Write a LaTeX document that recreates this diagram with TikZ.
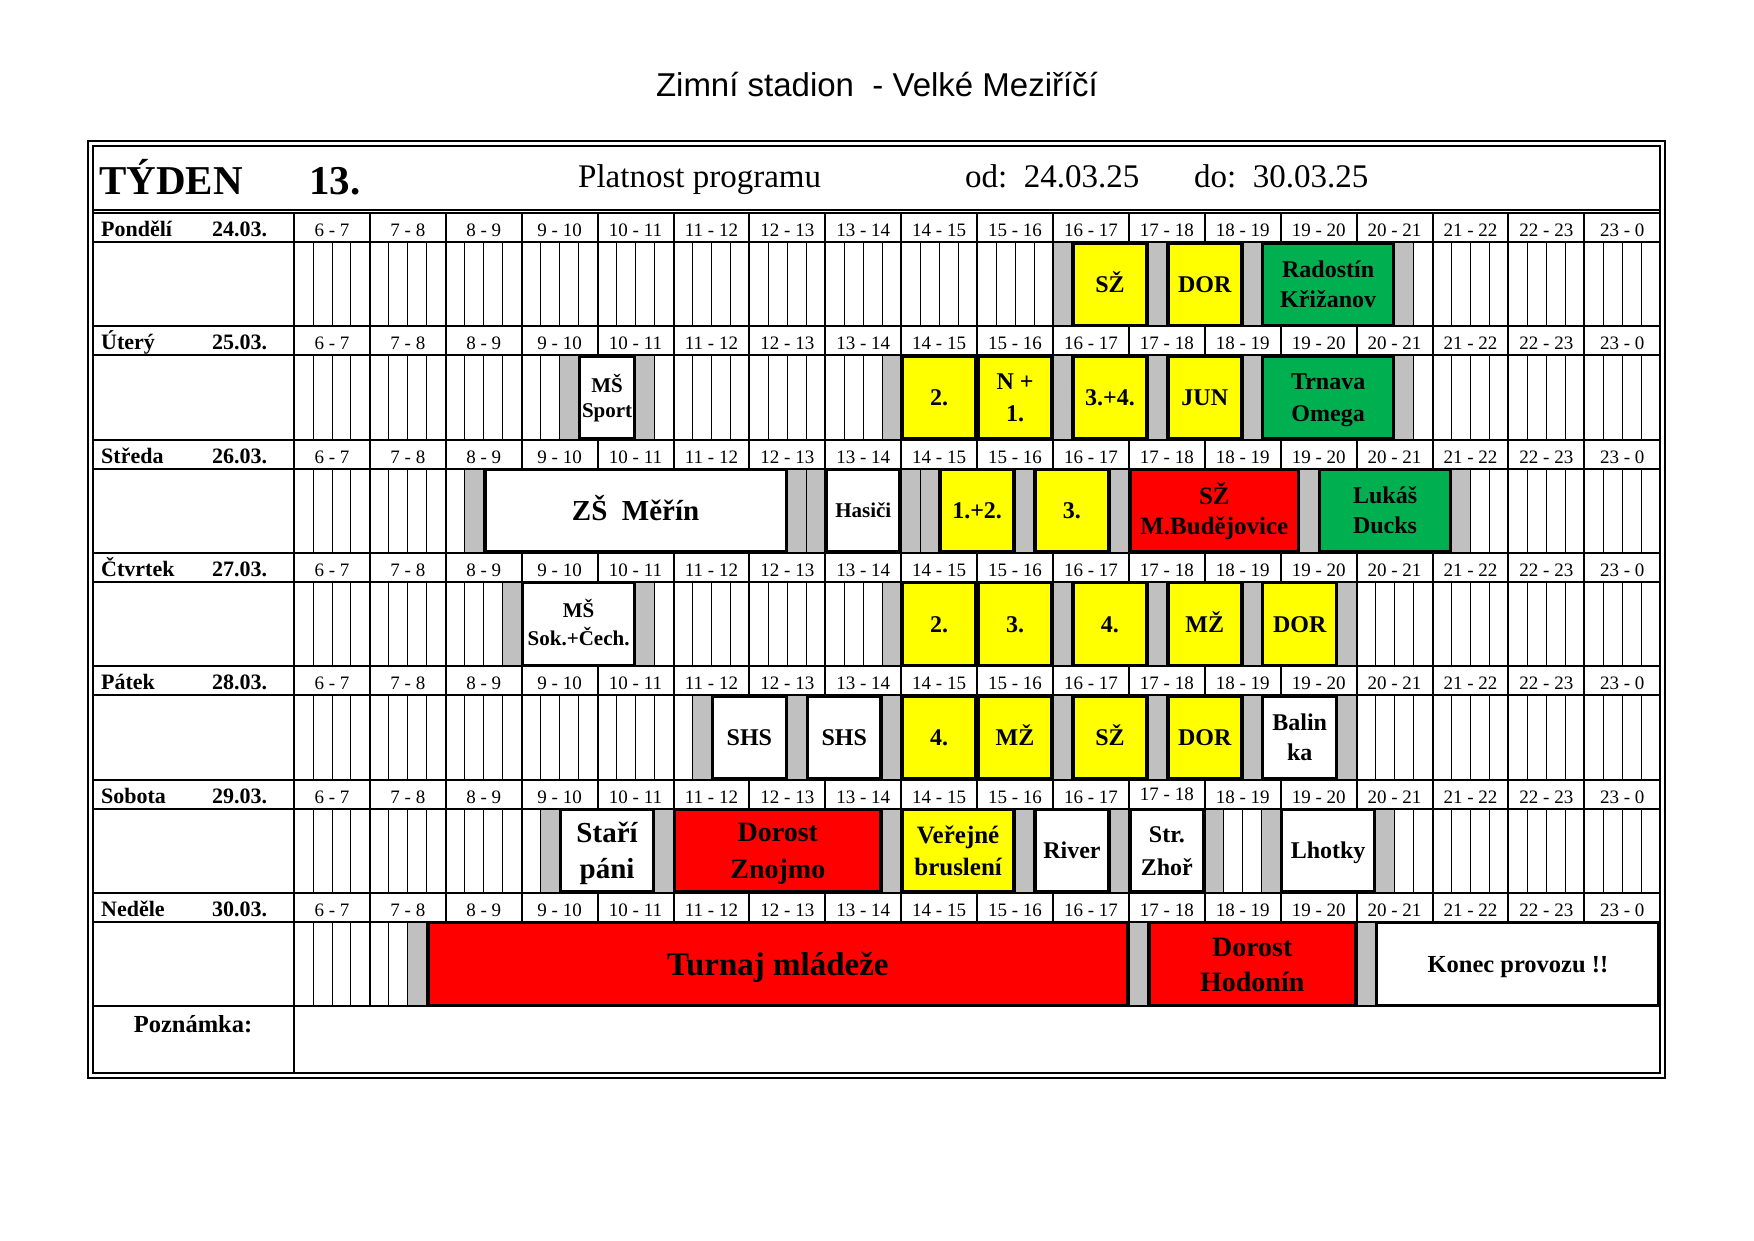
\documentclass[tikz,border=0pt]{standalone}
\usepackage{fontspec}
\setmainfont{Liberation Serif}
\newfontfamily\titlefont{Liberation Sans}
\definecolor{icegray}{RGB}{192,192,192}
\definecolor{slotyellow}{RGB}{255,255,0}
\definecolor{slotgreen}{RGB}{0,176,80}
\definecolor{slotred}{RGB}{255,0,0}
\tikzset{
  resbox/.style={
    draw,
    line width=3.5pt,
    inner sep=0pt,
    align=center,
    font=\bfseries\fontsize{24}{30}\selectfont,
    execute at begin node={\rule[-0.216em]{0pt}{1.107em}},
    execute at end node={\rule[-0.216em]{0pt}{1.107em}}
  },
  twolines/.style={execute at begin node={\rule[-0.216em]{0pt}{\dimexpr\baselineskip+1.116em\relax}}},
  hourlabel/.style={anchor=base, inner sep=0pt, font=\fontsize{19}{19}\selectfont},
  daylabel/.style={anchor=base west, inner sep=0pt, font=\bfseries\fontsize{22}{22}\selectfont},
  headtext/.style={anchor=base west, inner sep=0pt, font=\fontsize{33}{33}\selectfont},
  rowline/.style={line width=2pt},
  quarterline/.style={line width=0.9pt}
}
% [options]{name}{row}{from quarter}{to quarter}{fill}{text}
\newcommand{\slotbox}[7][]{%
  \node[resbox, fill=#6, minimum width={18.975pt*(#5-#4)-2pt}, minimum height=82.7pt, #1]
    (#2) at ({294+18.975*(#4+#5)/2},{284.15+113.3*#3}) {#7};}

\begin{document}
\begin{tikzpicture}[x=1pt, y=-1pt]
        \useasboundingbox (0,0) rectangle (1754,1240);
        \node[anchor=base, inner sep=0pt, font=\titlefont\fontsize{33}{33}\selectfont] (title) at (877,96.7) {Zimní stadion\ \ - Velké Meziříčí};

        % header
        \node[anchor=base west, inner sep=0pt, font=\bfseries\fontsize{41}{41}\selectfont] (week) at (99,194) {TÝDEN};
        \node[anchor=base west, inner sep=0pt, font=\bfseries\fontsize{41}{41}\selectfont] (weekno) at (309,194) {13.};
        \node[headtext] (validity) at (578,187) {Platnost programu};
        \node[headtext] (from) at (965,187) {od:\ \ 24.03.25};
        \node[headtext] (to) at (1194,187) {do:\ \ 30.03.25};

        % resurfacing quarters
        \foreach \rw/\qq in {0/40,0/45,0/50,0/58,
            1/14,1/18,1/31,1/40,1/45,1/50,1/58,
            2/9,2/26,2/27,2/32,2/33,2/38,2/43,2/53,2/61,
            3/11,3/18,3/31,3/40,3/45,3/50,3/55,
            4/21,4/26,4/31,4/40,4/45,4/50,4/55,
            5/13,5/19,5/31,5/38,5/43,5/48,5/51,5/57,
            6/6,6/44,6/56}
          \fill[icegray] ({294+18.975*\qq},{242+113.3*\rw}) rectangle ({294+18.975*(\qq+1)},{326.3+113.3*\rw});

        % grid and labels
        \foreach \dname/\ddate [count=\rw from 0] in {Pondělí/24.03., Úterý/25.03., Středa/26.03., Čtvrtek/27.03., Pátek/28.03., Sobota/29.03., Neděle/30.03.} {
          \foreach \qq in {1,...,71}
            \draw[quarterline] ({294+18.975*\qq},{242+113.3*\rw}) -- ++(0,84.3);
          \foreach \hh in {0,...,18}
            \draw[rowline] ({294+75.9*\hh},{213+113.3*\rw}) -- ++(0,113.3);
          \draw[rowline] (93,{213+113.3*\rw}) -- (1660.2,{213+113.3*\rw});
          \draw[rowline] (93,{242+113.3*\rw}) -- (1660.2,{242+113.3*\rw});
          \node[daylabel] (day\rw) at (101,{236.5+113.3*\rw}) {\dname};
          \node[daylabel] (date\rw) at (212,{236.5+113.3*\rw}) {\ddate};
          \foreach \hr [evaluate=\hr as \nh using {int(mod(\hr+1,24))}] in {6,...,23}
            \node[hourlabel] (hour\rw-\hr) at ({294+75.9*(\hr-6)+37.95},{236.5+113.3*\rw-2.5*(\rw==5)*(\hr==17)}) {\hr\ - \nh};
        }
        \draw[rowline] (93,1006.1) -- (1660.2,1006.1);
        \draw[rowline] (294,1006.1) -- (294,1073);
        \draw[rowline] (92.5,209.5) -- (1660.2,209.5);
        \node[anchor=base, inner sep=0pt, font=\bfseries\fontsize{24.5}{24.5}\selectfont] (note) at (193,1032) {Poznámka:};

        % bookings
        \slotbox{monSZ}{0}{41}{45}{slotyellow}{SŽ}
        \slotbox{monDOR}{0}{46}{50}{slotyellow}{DOR}
        \slotbox[twolines]{monRadostin}{0}{51}{58}{slotgreen}{Radostín\\Křižanov}
        \slotbox[twolines, font=\bfseries\fontsize{21}{25}\selectfont]{tueMS}{1}{15}{18}{white}{MŠ\\Sport}
        \slotbox{tueTwo}{1}{32}{36}{slotyellow}{2.}
        \slotbox[twolines, font=\bfseries\fontsize{24}{32}\selectfont]{tueN}{1}{36}{40}{slotyellow}{N +\\1.}
        \slotbox{tueThree}{1}{41}{45}{slotyellow}{3.+4.}
        \slotbox{tueJUN}{1}{46}{50}{slotyellow}{JUN}
        \slotbox[twolines, font=\bfseries\fontsize{24}{32}\selectfont]{tueTrnava}{1}{51}{58}{slotgreen}{Trnava\\Omega}
        \slotbox[font=\bfseries\fontsize{29}{29}\selectfont]{wedZS}{2}{10}{26}{white}{ZŠ\ \ Měřín}
        \slotbox[font=\bfseries\fontsize{21}{21}\selectfont]{wedHasici}{2}{28}{32}{white}{Hasiči}
        \slotbox{wedOne}{2}{34}{38}{slotyellow}{1.+2.}
        \slotbox{wedThree}{2}{39}{43}{slotyellow}{3.}
        \slotbox[twolines, font=\bfseries\fontsize{25}{30}\selectfont]{wedSZ}{2}{44}{53}{slotred}{SŽ\\M.Budějovice}
        \slotbox[twolines]{wedLukas}{2}{54}{61}{slotgreen}{Lukáš\\Ducks}
        \slotbox[twolines, font=\bfseries\fontsize{21}{28}\selectfont]{thuMS}{3}{12}{18}{white}{MŠ\\Sok.+Čech.}
        \slotbox{thuTwo}{3}{32}{36}{slotyellow}{2.}
        \slotbox{thuThree}{3}{36}{40}{slotyellow}{3.}
        \slotbox{thuFour}{3}{41}{45}{slotyellow}{4.}
        \slotbox{thuMZ}{3}{46}{50}{slotyellow}{MŽ}
        \slotbox{thuDOR}{3}{51}{55}{slotyellow}{DOR}
        \slotbox{friSHSa}{4}{22}{26}{white}{SHS}
        \slotbox{friSHSb}{4}{27}{31}{white}{SHS}
        \slotbox{friFour}{4}{32}{36}{slotyellow}{4.}
        \slotbox{friMZ}{4}{36}{40}{slotyellow}{MŽ}
        \slotbox{friSZ}{4}{41}{45}{slotyellow}{SŽ}
        \slotbox{friDOR}{4}{46}{50}{slotyellow}{DOR}
        \slotbox[twolines]{friBalinka}{4}{51}{55}{white}{Balin\\ka}
        \slotbox[twolines, font=\bfseries\fontsize{29}{36.5}\selectfont]{satStari}{5}{14}{19}{white}{Staří\\páni}
        \slotbox[twolines, font=\bfseries\fontsize{28}{36.5}\selectfont]{satDorost}{5}{20}{31}{slotred}{Dorost\\Znojmo}
        \slotbox[twolines, font=\bfseries\fontsize{25}{32}\selectfont]{satPublic}{5}{32}{38}{slotyellow}{Veřejné\\bruslení}
        \slotbox{satRiver}{5}{39}{43}{white}{River}
        \slotbox[twolines, font=\bfseries\fontsize{24}{33}\selectfont]{satStr}{5}{44}{48}{white}{Str.\\Zhoř}
        \slotbox{satLhotky}{5}{52}{57}{white}{Lhotky}
        \slotbox[font=\bfseries\fontsize{33}{33}\selectfont]{sunTurnaj}{6}{7}{44}{slotred}{Turnaj mládeže}
        \slotbox[twolines, font=\bfseries\fontsize{28}{35}\selectfont]{sunDorost}{6}{45}{56}{slotred}{Dorost\\Hodonín}
        \slotbox[font=\bfseries\fontsize{24.5}{24.5}\selectfont]{sunEnd}{6}{57}{72}{white}{Konec provozu !!}

        % frame
        \draw[line width=2pt] (92.5,145.5) rectangle (1660.2,1073);
        \draw[line width=2pt] (88,141) rectangle (1665,1077.5);
      \end{tikzpicture}
\end{document}
